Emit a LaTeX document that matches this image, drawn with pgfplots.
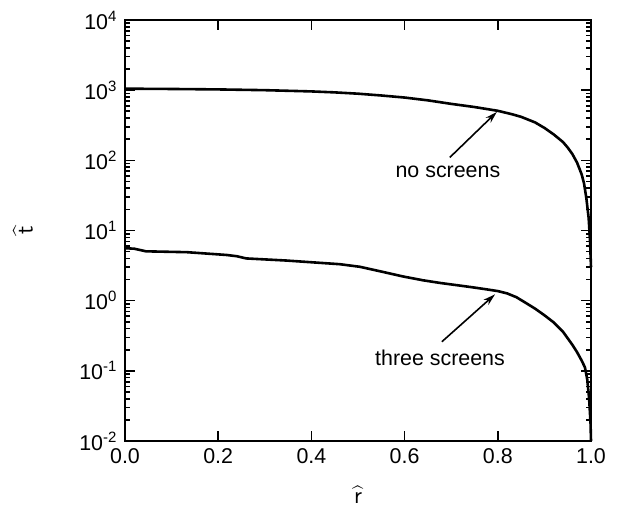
\documentclass[border=0pt]{standalone}
\usepackage{fontspec}
\setmainfont{Liberation Sans}
\usepackage{pgfplots}
\pgfplotsset{compat=1.18}
\usetikzlibrary{arrows.meta}
\pgfplotstableread{
r t
0 1050
0.1 1040
0.2 1025
0.3 1000
0.4 960
0.45 930
0.5 891
0.55 840
0.6 785
0.65 716
0.7 638
0.75 575
0.8 508
0.83 455
0.85 417
0.88 347
0.9 290
0.92 234
0.94 182
0.95 152
0.96 123
0.97 93
0.98 63
0.985 47
0.99 29
0.995 15
0.998 7
1.0 3
}\noscreens
\pgfplotstableread{
r t
0 5.6
0.02 5.5
0.045 5.05
0.133 4.91
0.218 4.48
0.24 4.3
0.26 4.0
0.347 3.73
0.461 3.31
0.504 3.04
0.55 2.6
0.597 2.21
0.64 1.95
0.676 1.79
0.71 1.67
0.74 1.57
0.77 1.47
0.8 1.37
0.82 1.27
0.84 1.12
0.86 0.93
0.88 0.77
0.9 0.62
0.92 0.49
0.94 0.36
0.96 0.235
0.97 0.185
0.98 0.14
0.987 0.112
0.992 0.075
0.996 0.04
0.999 0.018
1.0 0.01
}\threescreens
\begin{document}
\fontsize{10.7}{12.8}\selectfont
\begin{tikzpicture}
\useasboundingbox (-62.5pt,-34pt) rectangle (247.5pt,220.5pt);
\begin{axis}[
  at={(0,0)}, anchor=south west,
  scale only axis, width=233pt, height=210.5pt,
  ymode=log, xmin=0, xmax=1, ymin=1e-2, ymax=1e4,
  xtick={0,0.2,0.4,0.6,0.8,1}, xticklabels={0.0,0.2,0.4,0.6,0.8,1.0},
  ytick={1e-2,1e-1,1,1e1,1e2,1e3,1e4},
  yticklabels={10\textsuperscript{-2},10\textsuperscript{-1},10\textsuperscript{0},10\textsuperscript{1},10\textsuperscript{2},10\textsuperscript{3},10\textsuperscript{4}},
  minor ytick={2e-2,3e-2,4e-2,5e-2,6e-2,7e-2,8e-2,9e-2,
    2e-1,3e-1,4e-1,5e-1,6e-1,7e-1,8e-1,9e-1,
    2,3,4,5,6,7,8,9,20,30,40,50,60,70,80,90,
    200,300,400,500,600,700,800,900,2000,3000,4000,5000,6000,7000,8000,9000},
  tick align=inside, major tick length=5pt, minor tick length=2.5pt,
  axis line style={line width=1pt}, tick style={line width=0.8pt,black},
  ticklabel style={font=\fontsize{10.7}{12}\selectfont},
  xlabel={$\widehat{\textsf{r}}$}, ylabel={$\widehat{\textsf{t}}$},
  xlabel style={at={(axis description cs:0.5,-0.128)},anchor=center,font=\fontsize{12}{14}\selectfont},
  ylabel style={at={(axis description cs:-0.219,0.5)},anchor=center,font=\fontsize{12}{14}\selectfont},
  clip=false,
]
\addplot[black, line width=1.3pt, no marks] table[x=r,y=t] {\noscreens};
\addplot[black, line width=1.3pt, no marks] table[x=r,y=t] {\threescreens};
\draw[-{Stealth[length=6pt,width=3.5pt]}, line width=0.8pt] (axis cs:0.697,110) -- (axis cs:0.798,490);
\draw[-{Stealth[length=6pt,width=3.5pt]}, line width=0.8pt] (axis cs:0.680,0.26) -- (axis cs:0.794,1.23);
\node at (axis cs:0.693,69) {no screens};
\node at (axis cs:0.676,0.153) {three screens};
\end{axis}
\end{tikzpicture}
\end{document}
